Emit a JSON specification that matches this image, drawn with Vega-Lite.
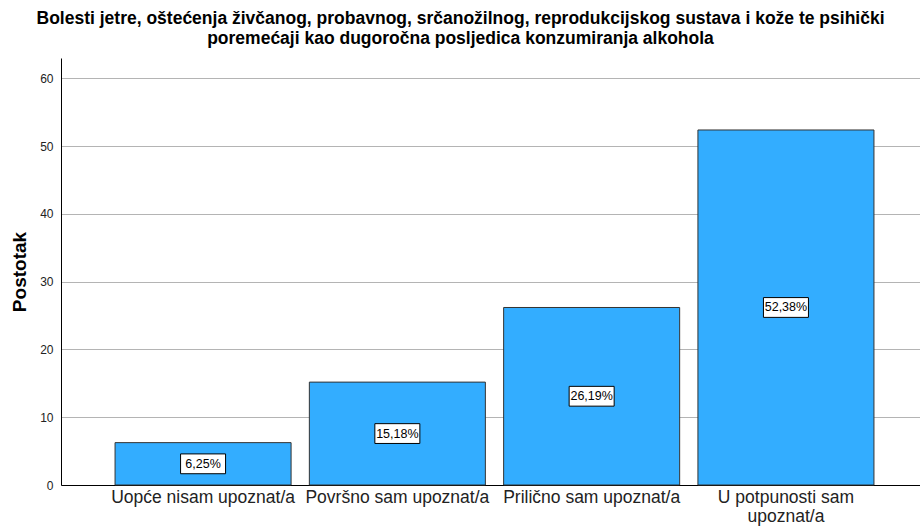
{
  "$schema": "https://vega.github.io/schema/vega-lite/v6.json",
  "autosize": "none",
  "width": 859,
  "height": 427,
  "padding": {"left": 61, "top": 58, "right": 0, "bottom": 44},
  "background": "white",
  "config": {
    "view": {"stroke": null},
    "font": "Liberation Sans"
  },
  "title": {
    "text": ["Bolesti jetre, oštećenja živčanog, probavnog, srčanožilnog, reprodukcijskog sustava i kože te psihički", "poremećaji kao dugoročna posljedica konzumiranja alkohola"],
    "font": "Liberation Sans",
    "fontSize": 17.5,
    "fontWeight": "bold",
    "color": "black",
    "anchor": "middle",
    "dx": -30,
    "offset": 11,
    "lineHeight": 20
  },
  "data": {
    "values": [
      {"category": "Uopće nisam upoznat/a", "value": 6.25, "label": "6,25%"},
      {"category": "Površno sam upoznat/a", "value": 15.18, "label": "15,18%"},
      {"category": "Prilično sam upoznat/a", "value": 26.19, "label": "26,19%"},
      {"category": "U potpunosti sam upoznat/a", "value": 52.38, "label": "52,38%"}
    ]
  },
  "encoding": {
    "x": {
      "field": "category",
      "type": "nominal",
      "sort": null,
      "scale": {"paddingInner": 0.094, "paddingOuter": 0.2576, "align": 0.54},
      "axis": {
        "title": null,
        "labelAngle": 0,
        "labelFont": "Liberation Sans",
        "labelFontSize": 17.5,
        "labelColor": "#222",
        "labelPadding": 3,
        "labelLimit": 400,
        "labelOverlap": false,
        "ticks": false,
        "domainColor": "black",
        "domainWidth": 1,
        "grid": false,
        "labelExpr": "datum.label == 'U potpunosti sam upoznat/a' ? ['U potpunosti sam', 'upoznat/a'] : datum.label",
        "labelLineHeight": 19
      }
    }
  },
  "layer": [
    {
      "mark": {"type": "bar", "fill": "#33adff", "stroke": "#333333", "strokeWidth": 1},
      "encoding": {
        "y": {
          "field": "value",
          "type": "quantitative",
          "scale": {"domain": [0, 63], "nice": false},
          "axis": {
            "title": "Postotak",
            "titleFont": "Liberation Sans",
            "titleFontSize": 19,
            "titleFontWeight": "bold",
            "titleColor": "black",
            "titlePadding": 10,
            "values": [0, 10, 20, 30, 40, 50, 60],
            "labelFont": "Liberation Sans",
            "labelFontSize": 12,
            "labelColor": "#222",
            "labelPadding": 8,
            "ticks": false,
            "domainColor": "black",
            "gridColor": "#b4b4b4",
            "gridWidth": 1
          }
        }
      }
    },
    {
      "transform": [{"calculate": "datum.value / 2", "as": "mid"}],
      "mark": {"type": "point", "shape": "M-1,-0.44H1V0.44H-1Z", "filled": true, "fill": "white", "stroke": "black", "strokeWidth": 1, "opacity": 1, "size": 2025},
      "encoding": {
        "y": {"field": "mid", "type": "quantitative", "scale": {"domain": [0, 63], "nice": false}}
      }
    },
    {
      "transform": [{"calculate": "datum.value / 2", "as": "mid"}],
      "mark": {"type": "text", "font": "Liberation Sans", "fontSize": 12.5, "color": "black", "baseline": "middle", "align": "center"},
      "encoding": {
        "y": {"field": "mid", "type": "quantitative", "scale": {"domain": [0, 63], "nice": false}},
        "text": {"field": "label"}
      }
    }
  ]
}
